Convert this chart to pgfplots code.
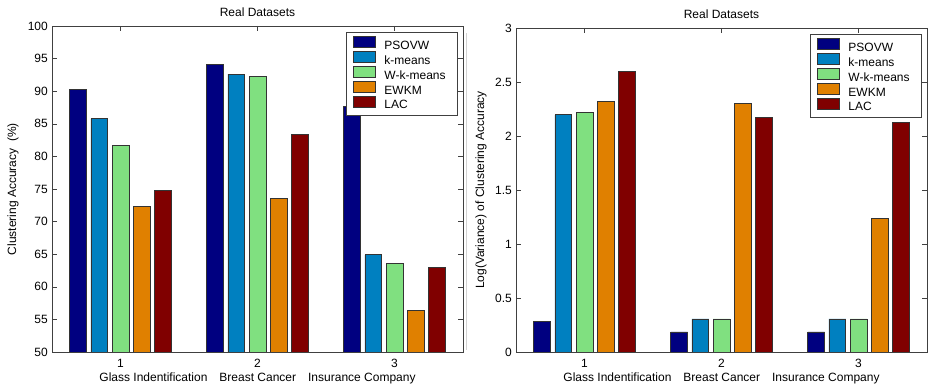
\documentclass[border=0pt]{standalone}
\usepackage{fontspec}
\setmainfont{Liberation Sans}
\usepackage{pgfplots}
\pgfplotsset{compat=1.18}
\definecolor{cPSO}{HTML}{000080}
\definecolor{cKM}{HTML}{0080C0}
\definecolor{cWKM}{HTML}{80E080}
\definecolor{cEWKM}{HTML}{E08000}
\definecolor{cLAC}{HTML}{800000}
\newcommand{\limg}[1]{\draw[fill=#1, draw=black!80, line width=0.8pt] (0pt,-1.2pt) rectangle (22pt,9.8pt);}
\newcommand{\lt}[1]{\hspace*{6pt}#1}
\pgfplotsset{
  mystyle/.style={
    scale only axis,
    width=411pt,
    xmin=0.5, xmax=3.5,
    xtick={1,2,3},
    ybar, bar width=0.123,
    tick align=inside,
    major tick length=5pt,
    axis line style={draw=black!75},
    tick style={draw=black!75},
    font=\fontsize{12}{14}\selectfont,
    /pgf/number format/assume math mode=true,
    xticklabel style={yshift=-3pt},
    title={Real Datasets},
    title style={at={(0.5,1)}, anchor=base, yshift=3.5pt, inner sep=0pt},
    xlabel={Glass Indentification\hspace{12pt}Breast Cancer\hspace{12pt}Insurance Company},
    xlabel style={at={(0.5,0)}, anchor=base, yshift=-30pt, inner sep=0pt},
    legend cell align=left,
    legend style={at={(1,1)}, anchor=north east, xshift=-5pt, yshift=-6pt,
      draw=black!75, line width=0.8pt, font=\fontsize{12}{14}\selectfont,
      nodes={inner xsep=3pt, inner ysep=0pt, text height=8.5pt, text depth=2.5pt},
      row sep=-0.9pt, inner xsep=6pt, inner ysep=4pt},
    every axis plot post/.append style={draw=black!80, line width=0.8pt},
  }
}
\begin{document}
\fontsize{12}{14}\selectfont
\begin{tikzpicture}
\path[use as bounding box] (0,0) rectangle (929pt,388pt);
\draw[gray!35, line width=0.8pt] (466pt,38pt) -- (466pt,355pt);
\begin{axis}[mystyle, at={(52pt,36pt)}, anchor=south west, height=326pt,
  ymin=50, ymax=100, ytick={50,55,...,100},
  ylabel={Clustering Accuracy\ \ (\%)},
  every axis y label/.style={at={(axis description cs:-0.0949,0.5)}, rotate=90, anchor=center}]
\addplot[fill=cPSO, bar shift=-0.308, legend image code/.code={\limg{cPSO}}] coordinates {(1,90.2) (2,94.1) (3,87.7)};
\addplot[fill=cKM, bar shift=-0.154, legend image code/.code={\limg{cKM}}] coordinates {(1,85.8) (2,92.6) (3,64.9)};
\addplot[fill=cWKM, bar shift=0, legend image code/.code={\limg{cWKM}}] coordinates {(1,81.7) (2,92.2) (3,63.6)};
\addplot[fill=cEWKM, bar shift=0.154, legend image code/.code={\limg{cEWKM}}] coordinates {(1,72.3) (2,73.5) (3,56.4)};
\addplot[fill=cLAC, bar shift=0.308, legend image code/.code={\limg{cLAC}}] coordinates {(1,74.8) (2,83.4) (3,63.0)};
\legend{\lt{PSOVW}, \lt{k-means}, \lt{W-k-means}\hspace*{3pt}, \lt{EWKM}, \lt{LAC}}
\end{axis}
\begin{axis}[mystyle, at={(516pt,36pt)}, anchor=south west, height=324pt,
  ymin=0, ymax=3, ytick={0,0.5,1,1.5,2,2.5,3},
  yticklabel style={/pgf/number format/fixed},
  ylabel={Log(Variance) of Clustering Accuracy},
  every axis y label/.style={at={(axis description cs:-0.0852,0.5)}, rotate=90, anchor=center}]
\addplot[fill=cPSO, bar shift=-0.308, legend image code/.code={\limg{cPSO}}] coordinates {(1,0.28) (2,0.186) (3,0.186)};
\addplot[fill=cKM, bar shift=-0.154, legend image code/.code={\limg{cKM}}] coordinates {(1,2.196) (2,0.306) (3,0.306)};
\addplot[fill=cWKM, bar shift=0, legend image code/.code={\limg{cWKM}}] coordinates {(1,2.22) (2,0.306) (3,0.306)};
\addplot[fill=cEWKM, bar shift=0.154, legend image code/.code={\limg{cEWKM}}] coordinates {(1,2.32) (2,2.30) (3,1.237)};
\addplot[fill=cLAC, bar shift=0.308, legend image code/.code={\limg{cLAC}}] coordinates {(1,2.595) (2,2.17) (3,2.125)};
\legend{\lt{PSOVW}, \lt{k-means}, \lt{W-k-means}\hspace*{3pt}, \lt{EWKM}, \lt{LAC}}
\end{axis}
\end{tikzpicture}
\end{document}
